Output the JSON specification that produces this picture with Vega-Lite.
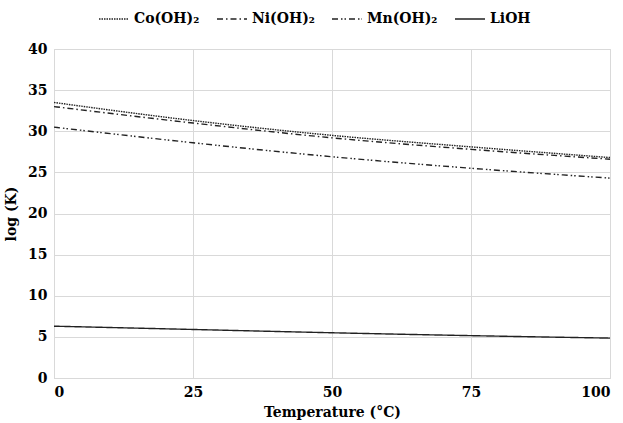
{
  "$schema": "https://vega.github.io/schema/vega-lite/v6.json",
  "width": 623,
  "height": 423,
  "autosize": {"type": "fit", "contains": "padding"},
  "padding": {"left": 4, "top": 42, "right": 10, "bottom": 4},
  "config": {
    "font": "DejaVu Serif",
    "view": {"stroke": "#d9d9d9"},
    "axis": {
      "labelFont": "DejaVu Serif",
      "labelFontWeight": "bold",
      "labelFontSize": 14,
      "labelColor": "#000",
      "titleFont": "DejaVu Serif",
      "titleFontWeight": "bold",
      "titleFontSize": 14,
      "titleColor": "#000",
      "gridColor": "#d9d9d9",
      "domainColor": "#d9d9d9",
      "ticks": false,
      "labelPadding": 7
    }
  },
  "data": {
    "values": [
      {"t": 0, "s": "Co(OH)₂", "v": 33.5},
      {"t": 25, "s": "Co(OH)₂", "v": 31.3},
      {"t": 50, "s": "Co(OH)₂", "v": 29.5},
      {"t": 75, "s": "Co(OH)₂", "v": 28.1},
      {"t": 100, "s": "Co(OH)₂", "v": 26.8},
      {"t": 0, "s": "Ni(OH)₂", "v": 33.0},
      {"t": 25, "s": "Ni(OH)₂", "v": 31.0},
      {"t": 50, "s": "Ni(OH)₂", "v": 29.2},
      {"t": 75, "s": "Ni(OH)₂", "v": 27.8},
      {"t": 100, "s": "Ni(OH)₂", "v": 26.6},
      {"t": 0, "s": "Mn(OH)₂", "v": 30.5},
      {"t": 25, "s": "Mn(OH)₂", "v": 28.6},
      {"t": 50, "s": "Mn(OH)₂", "v": 26.9},
      {"t": 75, "s": "Mn(OH)₂", "v": 25.5},
      {"t": 100, "s": "Mn(OH)₂", "v": 24.3},
      {"t": 0, "s": "LiOH", "v": 6.3},
      {"t": 25, "s": "LiOH", "v": 5.9},
      {"t": 50, "s": "LiOH", "v": 5.5},
      {"t": 75, "s": "LiOH", "v": 5.15},
      {"t": 100, "s": "LiOH", "v": 4.85}
    ]
  },
  "mark": {"type": "line", "color": "#222", "strokeWidth": 1.4, "interpolate": "monotone"},
  "encoding": {
    "x": {
      "field": "t",
      "type": "quantitative",
      "scale": {"domain": [0, 100], "nice": false},
      "axis": {"values": [0, 25, 50, 75, 100], "title": "Temperature (°C)", "titlePadding": 6}
    },
    "y": {
      "field": "v",
      "type": "quantitative",
      "scale": {"domain": [0, 40], "nice": false},
      "axis": {"values": [0, 5, 10, 15, 20, 25, 30, 35, 40], "title": "log (K)", "titlePadding": 9}
    },
    "strokeDash": {
      "field": "s",
      "type": "nominal",
      "scale": {
        "domain": ["Co(OH)₂", "Ni(OH)₂", "Mn(OH)₂", "LiOH"],
        "range": [[1.5, 1], [6, 3, 1.5, 3], [6, 3, 1.5, 2, 1.5, 3], [1, 0]]
      },
      "legend": {
        "orient": "none",
        "legendX": 44,
        "legendY": -46,
        "direction": "horizontal",
        "title": null,
        "labelFont": "DejaVu Serif",
        "labelFontWeight": "bold",
        "labelFontSize": 14,
        "labelColor": "#000",
        "symbolType": "stroke",
        "symbolSize": 900,
        "symbolStrokeWidth": 1.3,
        "symbolStrokeColor": "#222",
        "columnPadding": 14
      }
    }
  }
}
